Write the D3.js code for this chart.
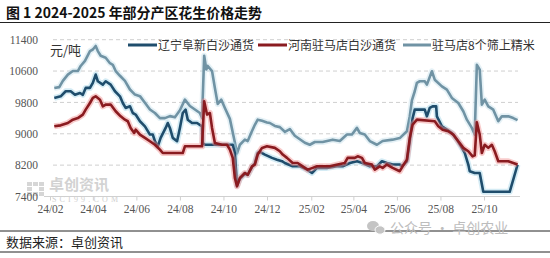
<!DOCTYPE html>
<html>
<head>
<meta charset="utf-8">
<script src="https://cdn.jsdelivr.net/npm/d3@7"></script>
<style>
  body { margin: 0; background: #fff; }
  svg { display: block; }
</style>
</head>
<body>
<svg id="chart" width="550" height="258"></svg>
<script>
// 辽宁阜新白沙通货
const liaoning = [
  ["2024-02-07", 9915], ["2024-02-16", 9955], ["2024-02-23", 10085], ["2024-03-01", 10085],
  ["2024-03-07", 9995], ["2024-03-14", 10040], ["2024-03-18", 9995], ["2024-03-22", 10170],
  ["2024-03-28", 10170], ["2024-04-01", 10300], ["2024-04-05", 10510], ["2024-04-08", 10340],
  ["2024-04-15", 10255], ["2024-04-19", 10340], ["2024-04-26", 10255], ["2024-05-02", 10085],
  ["2024-05-09", 9955], ["2024-05-13", 9785], ["2024-05-17", 9660], ["2024-05-23", 9700],
  ["2024-05-27", 9530], ["2024-05-31", 9490], ["2024-06-06", 9320], ["2024-06-13", 9190],
  ["2024-06-20", 8980], ["2024-06-24", 8980], ["2024-06-27", 8810], ["2024-07-01", 8680],
  ["2024-07-05", 8895], ["2024-07-12", 9150], ["2024-07-15", 9275], ["2024-07-18", 9150],
  ["2024-07-22", 8895], ["2024-07-28", 8810], ["2024-08-01", 9150], ["2024-08-05", 9530],
  ["2024-08-09", 9615], ["2024-08-12", 9360], ["2024-08-18", 9275], ["2024-08-25", 9275],
  ["2024-09-01", 9190], ["2024-09-02", 8765], ["2024-09-05", 8720], ["2024-10-14", 8720],
  ["2024-10-17", 8510], ["2024-10-20", 7680], ["2024-10-24", 7850], ["2024-10-31", 7980],
  ["2024-11-04", 7950], ["2024-11-10", 8150], ["2024-11-14", 8250], ["2024-11-18", 8510],
  ["2024-11-21", 8540], ["2024-11-28", 8470], ["2024-12-08", 8385], ["2024-12-15", 8340],
  ["2024-12-22", 8300], ["2024-12-26", 8255], ["2025-01-06", 8170], ["2025-01-16", 8170],
  ["2025-01-26", 8085], ["2025-02-02", 8000], ["2025-02-09", 8130], ["2025-02-23", 8130],
  ["2025-03-09", 8170], ["2025-03-17", 8170], ["2025-03-27", 8255], ["2025-04-06", 8300],
  ["2025-04-14", 8255], ["2025-04-24", 8170], ["2025-05-04", 8170], ["2025-05-11", 8300],
  ["2025-05-18", 8255], ["2025-05-26", 8215], ["2025-06-05", 8215], ["2025-06-08", 8170],
  ["2025-06-15", 8300], ["2025-06-19", 8810], ["2025-06-23", 9400], ["2025-06-26", 9615],
  ["2025-07-10", 9615], ["2025-07-13", 9445], ["2025-07-17", 9660], ["2025-07-21", 9700],
  ["2025-07-26", 9700], ["2025-07-27", 9445], ["2025-08-03", 9190], ["2025-08-10", 9105],
  ["2025-08-17", 9020], ["2025-08-24", 8850], ["2025-08-31", 8640], ["2025-09-04", 8510],
  ["2025-09-09", 8215], ["2025-09-11", 8045], ["2025-09-18", 8000], ["2025-09-25", 8000],
  ["2025-09-30", 7520], ["2025-11-06", 7520], ["2025-11-17", 8210]
];

// 河南驻马店白沙通货
const henan = [
  ["2024-02-07", 9190], ["2024-02-16", 9215], ["2024-02-26", 9275], ["2024-03-04", 9360],
  ["2024-03-11", 9400], ["2024-03-18", 9490], ["2024-03-22", 9615], ["2024-03-28", 9785],
  ["2024-04-01", 9915], ["2024-04-05", 9955], ["2024-04-11", 9870], ["2024-04-15", 9700],
  ["2024-04-19", 9745], ["2024-04-26", 9745], ["2024-05-03", 9575], ["2024-05-10", 9445],
  ["2024-05-16", 9360], ["2024-05-20", 9320], ["2024-05-24", 9150], ["2024-05-29", 9020],
  ["2024-05-31", 9105], ["2024-06-06", 8980], ["2024-06-13", 8895], ["2024-06-20", 8810],
  ["2024-06-27", 8720], ["2024-07-04", 8595], ["2024-07-08", 8510], ["2024-08-05", 8510],
  ["2024-08-08", 8680], ["2024-09-01", 8680], ["2024-09-04", 9830], ["2024-09-08", 9490],
  ["2024-09-12", 9530], ["2024-09-15", 9150], ["2024-09-19", 8765], ["2024-09-29", 8720],
  ["2024-10-06", 8720], ["2024-10-10", 8595], ["2024-10-14", 8385], ["2024-10-17", 7875],
  ["2024-10-20", 7660], ["2024-10-24", 7875], ["2024-10-31", 8000], ["2024-11-04", 7955],
  ["2024-11-10", 8170], ["2024-11-14", 8215], ["2024-11-18", 8470], ["2024-11-24", 8640],
  ["2024-12-01", 8680], ["2024-12-12", 8640], ["2024-12-19", 8555], ["2024-12-23", 8470],
  ["2024-12-29", 8385], ["2025-01-06", 8255], ["2025-01-13", 8255], ["2025-01-20", 8170],
  ["2025-01-27", 8085], ["2025-02-03", 8130], ["2025-02-09", 8170], ["2025-02-27", 8170],
  ["2025-03-10", 8215], ["2025-03-20", 8255], ["2025-03-24", 8385], ["2025-04-03", 8385],
  ["2025-04-07", 8425], ["2025-04-13", 8385], ["2025-04-17", 8255], ["2025-04-27", 8215],
  ["2025-05-01", 8085], ["2025-05-08", 8170], ["2025-05-12", 8130], ["2025-05-18", 8215],
  ["2025-05-26", 8130], ["2025-06-05", 8045], ["2025-06-09", 8170], ["2025-06-15", 8340],
  ["2025-06-19", 8895], ["2025-06-23", 9230], ["2025-06-29", 9360], ["2025-07-24", 9320],
  ["2025-07-29", 9190], ["2025-08-04", 9105], ["2025-08-12", 9065], ["2025-08-19", 8980],
  ["2025-08-26", 8810], ["2025-09-02", 8640], ["2025-09-09", 8555], ["2025-09-15", 8425],
  ["2025-09-18", 8450], ["2025-09-21", 9290], ["2025-09-25", 8980], ["2025-09-28", 8510],
  ["2025-10-02", 8720], ["2025-10-07", 8640], ["2025-10-12", 8720], ["2025-10-16", 8555],
  ["2025-10-21", 8300], ["2025-11-04", 8300], ["2025-11-11", 8255], ["2025-11-17", 8215]
];

// 驻马店8个筛上精米
const jingmi = [
  ["2024-02-07", 10170], ["2024-02-14", 10190], ["2024-02-19", 10350], ["2024-02-26", 10510],
  ["2024-03-04", 10600], ["2024-03-11", 10600], ["2024-03-15", 10730], ["2024-03-21", 10860],
  ["2024-03-28", 11110], ["2024-04-01", 11150], ["2024-04-05", 11240], ["2024-04-08", 11110],
  ["2024-04-12", 10990], ["2024-04-19", 10940], ["2024-04-25", 10800], ["2024-04-29", 10760],
  ["2024-05-03", 10600], ["2024-05-09", 10480], ["2024-05-16", 10350], ["2024-05-23", 10130],
  ["2024-05-30", 10000], ["2024-06-06", 9960], ["2024-06-13", 9790], ["2024-06-20", 9620],
  ["2024-06-27", 9530], ["2024-07-04", 9400], ["2024-07-11", 9400], ["2024-07-18", 9450],
  ["2024-07-25", 9420], ["2024-08-01", 9600], ["2024-08-08", 9870], ["2024-08-15", 9710],
  ["2024-08-22", 9620], ["2024-08-29", 9530], ["2024-09-01", 9400], ["2024-09-04", 10990],
  ["2024-09-07", 10640], ["2024-09-09", 10730], ["2024-09-15", 10600], ["2024-09-19", 10170],
  ["2024-09-23", 9760], ["2024-09-28", 9870], ["2024-10-03", 9660], ["2024-10-10", 9380],
  ["2024-10-17", 8780], ["2024-10-20", 8500], ["2024-10-24", 8720], ["2024-10-31", 8850],
  ["2024-11-04", 8815], ["2024-11-10", 9070], ["2024-11-14", 9230], ["2024-11-18", 9360],
  ["2024-11-24", 9330], ["2024-12-01", 9290], ["2024-12-05", 9275], ["2024-12-12", 9200],
  ["2024-12-19", 9170], ["2024-12-26", 9050], ["2025-01-02", 9120], ["2025-01-09", 8950],
  ["2025-01-16", 8860], ["2025-01-23", 8770], ["2025-01-30", 8720], ["2025-02-06", 8790],
  ["2025-02-17", 8790], ["2025-03-03", 8850], ["2025-03-13", 8815], ["2025-03-23", 8980],
  ["2025-03-30", 8980], ["2025-04-06", 9150], ["2025-04-10", 9020], ["2025-04-17", 8980],
  ["2025-04-24", 8815], ["2025-05-04", 8720], ["2025-05-12", 8815], ["2025-05-26", 8850],
  ["2025-06-05", 8890], ["2025-06-15", 9065], ["2025-06-19", 9450], ["2025-06-22", 9850],
  ["2025-06-26", 10085], ["2025-06-29", 10300], ["2025-07-03", 10340], ["2025-07-10", 10340],
  ["2025-07-13", 10255], ["2025-07-20", 10595], ["2025-07-24", 10380], ["2025-08-03", 10210],
  ["2025-08-10", 10125], ["2025-08-17", 9915], ["2025-08-26", 9785], ["2025-09-02", 9575],
  ["2025-09-07", 9360], ["2025-09-14", 9150], ["2025-09-18", 8980], ["2025-09-21", 10760],
  ["2025-09-25", 10635], ["2025-09-28", 9745], ["2025-10-02", 9870], ["2025-10-07", 9700],
  ["2025-10-14", 9615], ["2025-10-21", 9320], ["2025-10-26", 9445], ["2025-11-04", 9445],
  ["2025-11-11", 9400], ["2025-11-17", 9350]
];

const seriesNames = ["辽宁阜新白沙通货", "河南驻马店白沙通货", "驻马店8个筛上精米"];
const xTickLabels = ["2024-02-01", "2024-04-01", "2024-06-01", "2024-08-01", "2024-10-01", "2024-12-01",
                     "2025-02-01", "2025-04-01", "2025-06-01", "2025-08-01", "2025-10-01"];
const yTicks = [7400, 8200, 9000, 9800, 10600, 11400];

const parse = d3.timeParse("%Y-%m-%d");
const svg = d3.select("#chart");
const W = 550, H = 258;

const colors = ["#1f4d6c", "#8a1b20", "#7093a4"];
const glows = ["#9fd3e6", "#f08c8c", "#c6e0ea"];

const x = d3.scaleTime()
  .domain([parse("2024-02-01"), parse("2025-10-01")])
  .range([50, 484]);
const y = d3.scaleLinear().domain([7400, 11400]).range([196.5, 39.7]);

// header rule and title
svg.append("text")
  .attr("x", 6).attr("y", 18)
  .attr("font-family", "'Noto Sans CJK SC'")
  .attr("font-weight", 700).attr("font-size", 14)
  .attr("fill", "#111")
  .attr("textLength", 256).attr("lengthAdjust", "spacingAndGlyphs")
  .text("图 1 2024-2025 年部分产区花生价格走势");
svg.append("line").attr("x1", 0).attr("x2", W).attr("y1", 22.5).attr("y2", 22.5)
  .attr("stroke", "#222").attr("stroke-width", 1.2);

// watermark in plot
const logo = svg.append("g").attr("fill", "#d6d6d6");
[[0,0],[1,0],[2,1],[0,1],[1,2],[2,2],[0,2],[2,0]].forEach(([i, j]) => {
  logo.append("rect").attr("x", 27 + i * 6).attr("y", 182 + j * 5).attr("width", 5).attr("height", 4);
});
svg.append("text").attr("x", 49).attr("y", 190)
  .attr("font-family", "'Noto Sans CJK SC'").attr("font-weight", 700).attr("font-size", 15)
  .attr("fill", "#d2d2d2").text("卓创资讯");
svg.append("text").attr("x", 52).attr("y", 201.5)
  .attr("font-family", "'Liberation Serif'").attr("font-size", 8)
  .attr("fill", "#cfcfcf").attr("textLength", 66).text("SCI99.COM");

// gridlines
svg.append("g").selectAll("line")
  .data(yTicks.filter(d => d !== 7400))
  .join("line")
  .attr("x1", 53).attr("x2", 518)
  .attr("y1", d => y(d)).attr("y2", d => y(d))
  .attr("stroke", "#cfcfcf").attr("stroke-dasharray", "4,3");

// axes
svg.append("line").attr("x1", 44).attr("x2", 520).attr("y1", y(7400)).attr("y2", y(7400))
  .attr("stroke", "#d0d0d0");

const xAxis = svg.append("g")
  .attr("transform", `translate(0,${y(7400)})`)
  .call(d3.axisBottom(x).tickValues(xTickLabels.map(parse)).tickFormat(d3.timeFormat("%y/%m")).tickSize(4).tickPadding(4));
xAxis.select(".domain").remove();
xAxis.selectAll(".tick line").attr("stroke", "#d0d0d0");
xAxis.selectAll("text").attr("fill", "#555").attr("font-size", 11.5).attr("font-family", "'Liberation Serif'");

const yAxis = svg.append("g")
  .attr("transform", "translate(40,0)")
  .call(d3.axisLeft(y).tickValues(yTicks).tickFormat(d3.format("d")).tickSize(0).tickPadding(2));
yAxis.select(".domain").remove();
yAxis.selectAll("text").attr("fill", "#555").attr("font-size", 11.5).attr("font-family", "'Liberation Serif'");

svg.append("text").attr("x", 50).attr("y", 55)
  .attr("font-family", "'Noto Sans CJK SC'").attr("font-size", 13).attr("fill", "#333")
  .text("元/吨");

// lines
const line = d3.line().x(d => x(parse(d[0]))).y(d => y(d[1]));
const allSeries = [jingmi, liaoning, henan];
const order = [2, 0, 1];
allSeries.forEach((s, k) => {
  const ci = order[k];
  svg.append("path").datum(s)
    .attr("fill", "none").attr("stroke", glows[ci]).attr("stroke-opacity", 0.45)
    .attr("stroke-width", 6).attr("stroke-linejoin", "round").attr("d", line);
  svg.append("path").datum(s)
    .attr("fill", "none").attr("stroke", colors[ci])
    .attr("stroke-width", 2.6).attr("stroke-linejoin", "round").attr("d", line);
});

// legend
const legendPos = [[128, 158], [258, 288], [403, 432]];
seriesNames.forEach((name, i) => {
  const [sx, tx] = legendPos[i];
  svg.append("line").attr("x1", sx).attr("x2", tx - 1).attr("y1", 45).attr("y2", 45)
    .attr("stroke", colors[i]).attr("stroke-width", 3);
  svg.append("text").attr("x", tx).attr("y", 49.5)
    .attr("font-family", "'Noto Sans CJK SC'").attr("font-size", 12).attr("fill", "#333")
    .text(name);
});

// footer
svg.append("line").attr("x1", 0).attr("x2", W).attr("y1", 231).attr("y2", 231)
  .attr("stroke", "#222").attr("stroke-width", 1);
svg.append("line").attr("x1", 0).attr("x2", W).attr("y1", 252).attr("y2", 252)
  .attr("stroke", "#222").attr("stroke-width", 1);
svg.append("text").attr("x", 6).attr("y", 247)
  .attr("font-family", "'Noto Sans CJK SC'").attr("font-size", 13).attr("fill", "#222")
  .text("数据来源：卓创资讯");

const wx = svg.append("g").attr("fill", "#c4c4c4");
wx.append("ellipse").attr("cx", 373).attr("cy", 226).attr("rx", 6).attr("ry", 5);
wx.append("ellipse").attr("cx", 380).attr("cy", 230).attr("rx", 5).attr("ry", 4.2).attr("stroke", "#fff").attr("stroke-width", 1);
svg.append("text").attr("x", 390).attr("y", 233)
  .attr("font-family", "'Noto Sans CJK SC'").attr("font-size", 14).attr("fill", "#bdbdbd")
  .text("公众号 · 卓创农业");
</script>
</body>
</html>
